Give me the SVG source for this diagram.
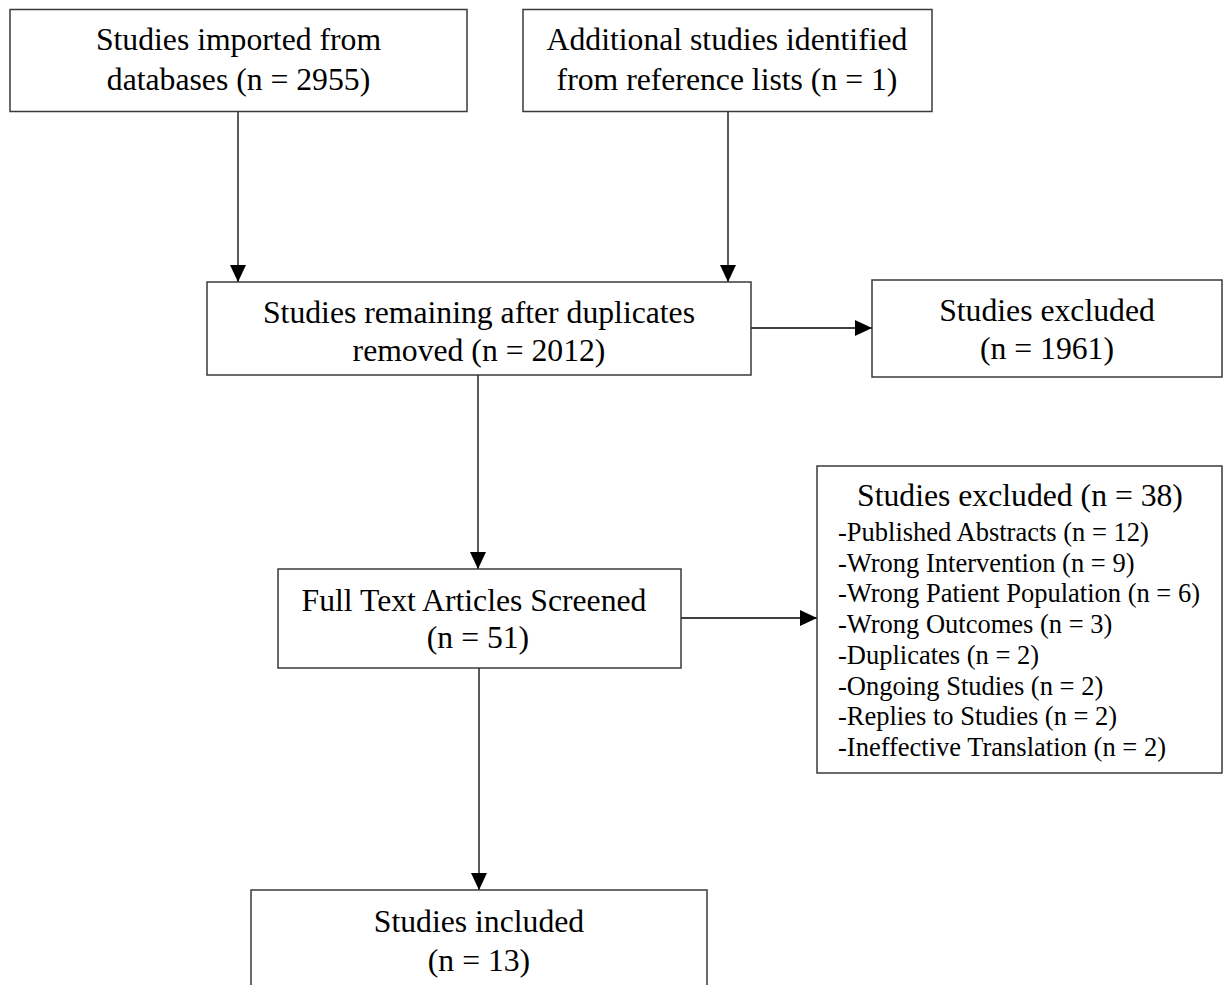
<svg xmlns="http://www.w3.org/2000/svg" width="1227" height="985" viewBox="0 0 1227 985">
<style>
.box{fill:#fff;stroke:#3a3a3a;stroke-width:1.5}
.t{font-family:"Liberation Serif","Times New Roman",serif;font-size:31.7px;fill:#000;text-anchor:middle}
.s{font-family:"Liberation Serif","Times New Roman",serif;font-size:26.5px;fill:#000}
.c{fill:none;stroke:#000;stroke-width:1.3}
</style>
<defs>
<marker id="ah" markerUnits="userSpaceOnUse" markerWidth="18" markerHeight="17" refX="17" refY="8" orient="auto">
<path d="M0,0 L17,8 L0,16 Z" fill="#000"/>
</marker>
</defs>
<rect width="1227" height="985" fill="#fff"/>
<g id="connectors">
<line class="c" x1="238" y1="111" x2="238" y2="282" marker-end="url(#ah)"/>
<line class="c" x1="728" y1="111" x2="728" y2="282" marker-end="url(#ah)"/>
<line class="c" x1="751" y1="328" x2="872" y2="328" marker-end="url(#ah)"/>
<line class="c" x1="478" y1="375" x2="478" y2="569" marker-end="url(#ah)"/>
<line class="c" x1="681" y1="618" x2="817" y2="618" marker-end="url(#ah)"/>
<line class="c" x1="479" y1="668" x2="479" y2="890" marker-end="url(#ah)"/>
</g>
<g id="node-imported">
<rect class="box" x="10" y="9.5" width="457" height="102"/>
<text class="t" x="238.5" y="50">Studies imported from</text>
<text class="t" x="238.5" y="90">databases (n = 2955)</text>
</g>
<g id="node-additional">
<rect class="box" x="523" y="9.5" width="409" height="102"/>
<text class="t" x="727" y="50">Additional studies identified</text>
<text class="t" x="727" y="90">from reference lists (n = 1)</text>
</g>
<g id="node-remaining">
<rect class="box" x="207" y="282" width="544" height="93"/>
<text class="t" x="479" y="323">Studies remaining after duplicates</text>
<text class="t" x="479" y="361">removed (n = 2012)</text>
</g>
<g id="node-excluded1">
<rect class="box" x="872" y="280" width="350" height="97"/>
<text class="t" x="1047" y="321">Studies excluded</text>
<text class="t" x="1047" y="359">(n = 1961)</text>
</g>
<g id="node-fulltext">
<rect class="box" x="278" y="569" width="403" height="99"/>
<text class="t" x="474" y="611">Full Text Articles Screened</text>
<text class="t" x="478" y="648">(n = 51)</text>
</g>
<g id="node-excluded2">
<rect class="box" x="817" y="466" width="405" height="307"/>
<text class="t" x="1020" y="506">Studies excluded (n = 38)</text>
<text class="s" x="838" y="541">-Published Abstracts (n = 12)</text>
<text class="s" x="838" y="571.7">-Wrong Intervention (n = 9)</text>
<text class="s" x="838" y="602.4">-Wrong Patient Population (n = 6)</text>
<text class="s" x="838" y="633.1">-Wrong Outcomes (n = 3)</text>
<text class="s" x="838" y="663.8">-Duplicates (n = 2)</text>
<text class="s" x="838" y="694.5">-Ongoing Studies (n = 2)</text>
<text class="s" x="838" y="725.2">-Replies to Studies (n = 2)</text>
<text class="s" x="838" y="755.9">-Ineffective Translation (n = 2)</text>
</g>
<g id="node-included">
<rect class="box" x="251" y="890" width="456" height="110"/>
<text class="t" x="479" y="932">Studies included</text>
<text class="t" x="479" y="971">(n = 13)</text>
</g>
</svg>
